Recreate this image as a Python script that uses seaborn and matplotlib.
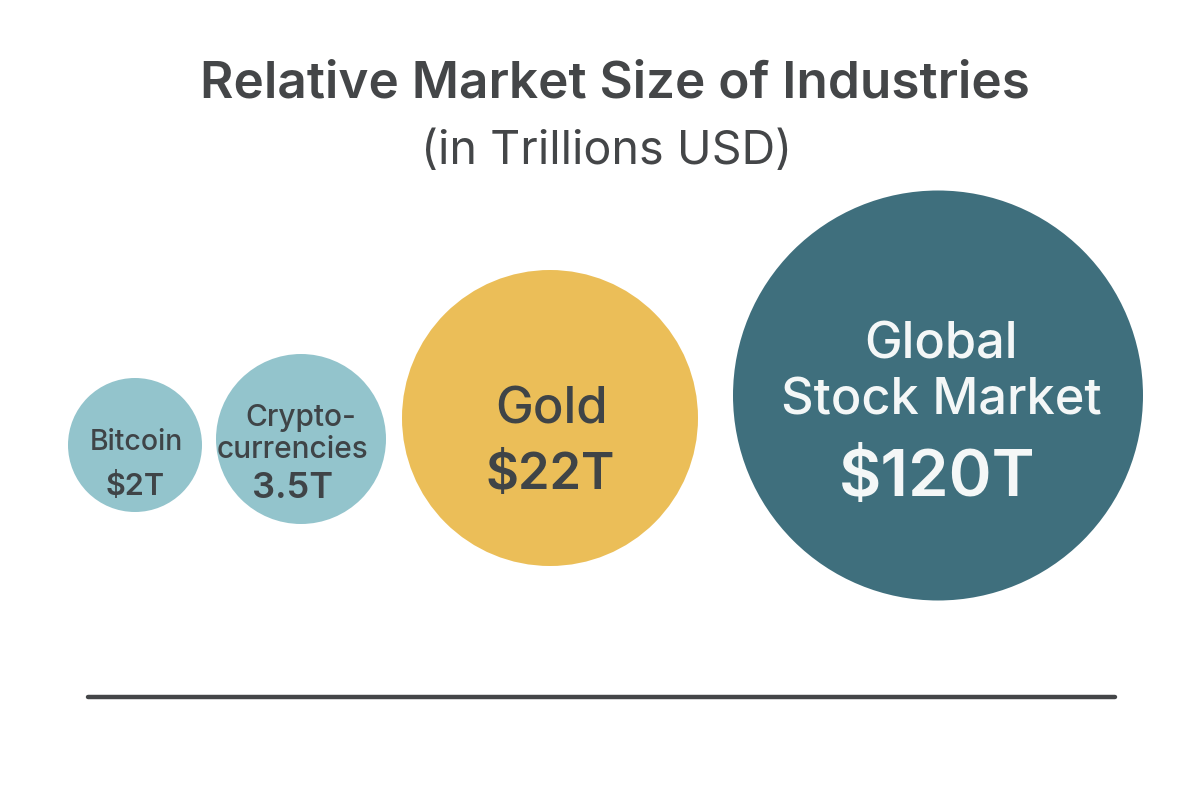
import matplotlib
matplotlib.use("Agg")
import matplotlib.pyplot as plt
import pandas as pd
import seaborn as sns

categories = ["Bitcoin", "Cryptocurrencies", "Gold", "Global Stock Market"]
name_labels = [["Bitcoin"], ["Crypto-", "currencies"], ["Gold"], ["Global", "Stock Market"]]
value_labels = ["$2T", "3.5T", "$22T", "$120T"]
values = [2, 3.5, 22, 120]
title = "Relative Market Size of Industries"
subtitle = "(in Trillions USD)"

# layout of the bubbles, in pixels of the 1200x800 canvas
centre_x = [135, 301, 550, 938]
centre_y = [445, 439, 418, 395.5]
diameters = [134, 170, 296, 410]
colours = ["#93C4CC", "#93C4CC", "#EBBE58", "#3F6F7D"]
text_colours = ["#3F4447", "#3F4447", "#3F4447", "#F4F7F7"]
name_sizes = [20.5, 21.5, 36.5, 36.4]
value_sizes = [22, 26, 36.5, 47]
name_x = [[136], [301, 293], [552], [941, 941]]
name_y = [[442], [418, 450], [410], [345, 401]]
value_x = [135, 293, 550, 937]
value_y = [487, 488, 476, 479]

sns.set_theme(style="white")
plt.rcParams["font.family"] = ["Inter", "DejaVu Sans"]

df = pd.DataFrame({"category": categories, "value": values,
                   "x": centre_x, "y": centre_y})

fig = plt.figure(figsize=(12, 8), dpi=100)
ax = fig.add_axes([0, 0, 1, 1])
sns.scatterplot(
    data=df, x="x", y="y", hue="category", size="category",
    palette=dict(zip(categories, colours)),
    sizes={c: (d * 72 / 100) ** 2 for c, d in zip(categories, diameters)},
    linewidth=0, alpha=1, legend=False, ax=ax, zorder=2,
)
ax.set_xlim(0, 1200)
ax.set_ylim(800, 0)
ax.axis("off")

ax.text(615, 84, title, ha="center", va="center", fontsize=36.9,
        fontweight="semibold", color="#444648")
ax.text(607, 152, subtitle, ha="center", va="center", fontsize=33.6,
        color="#444648")

for i in range(len(categories)):
    for line, lx, ly in zip(name_labels[i], name_x[i], name_y[i]):
        ax.text(lx, ly, line, ha="center", va="center",
                fontsize=name_sizes[i], color=text_colours[i],
                fontweight="medium", zorder=3)
    ax.text(value_x[i], value_y[i], value_labels[i], ha="center", va="center",
            fontsize=value_sizes[i], color=text_colours[i],
            fontweight="semibold", zorder=3)

ax.plot([88, 1115], [697, 697], color="#444648", lw=3.2,
        solid_capstyle="round", zorder=1)

fig.savefig("out.png", dpi=100)
